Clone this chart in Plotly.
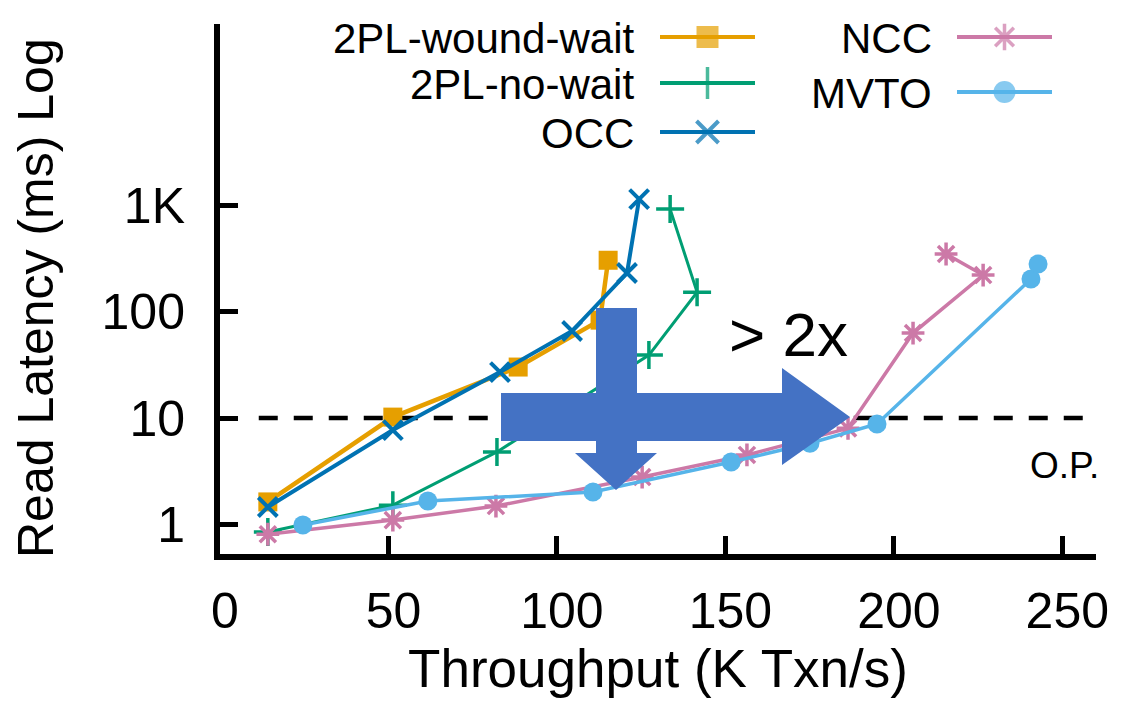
import plotly.graph_objects as go

# ---------------- data ----------------
ww_x = [14.2, 51.3, 88.5, 112.8, 115.2]
ww_y = [1.63, 10.2, 30.1, 83, 303]

nw_x = [14.2, 51.3, 82.2, 127.3, 141.6, 133.6]
nw_y = [0.85, 1.52, 4.8, 39, 152, 916]

occ_x = [14.2, 51.3, 83.1, 104.5, 120.8, 124.4]
occ_y = [1.46, 7.7, 27, 65.6, 230, 1138]

ncc_x = [14.2, 51.3, 81.9, 125.3, 156.4, 186.4, 205.7, 226.5, 215.5]
ncc_y = [0.81, 1.10, 1.49, 2.79, 4.5, 8.0, 62.8, 220, 347]

mvto_x = [24.6, 61.7, 110.7, 151.7, 175.1, 195.0, 240.7, 242.8]
mvto_y = [0.99, 1.66, 2.02, 3.86, 5.8, 8.8, 202, 279]

series_names = ["2PL-wound-wait", "2PL-no-wait", "OCC", "NCC", "MVTO"]

x_tickvals = [0, 50, 100, 150, 200, 250]
y_tickvals = [1, 10, 100, 1000]
y_ticktext = ["1", "10", "100", "1K"]

op_latency = 10          # operating-point latency line
op_x_span = [11.5, 258]  # extent of the dashed O.P. line

# ---------------- styling ----------------
FONT = "Liberation Sans, Arial, Helvetica, sans-serif"
styles = {
    "2PL-wound-wait": dict(color="#E69F00", symbol="square", size=19, lw=4.5, mlw=0),
    "2PL-no-wait": dict(color="#009E73", symbol="cross-thin", size=20, lw=3, mlw=3.5),
    "OCC": dict(color="#0072B2", symbol="x-thin", size=19, lw=4, mlw=4),
    "NCC": dict(color="#CC79A7", symbol="asterisk", size=19, lw=3.5, mlw=3.5),
    "MVTO": dict(color="#56B4E9", symbol="circle", size=19, lw=3.5, mlw=0),
}
xs = [ww_x, nw_x, occ_x, ncc_x, mvto_x]
ys = [ww_y, nw_y, occ_y, ncc_y, mvto_y]

# page offset (default body margin of the html page)
OFF = 8
# plot area in screen pixels
PL, PR, PT, PB = 220, 1096, 24, 554
W, H = 1124, 703
X_RANGE = [0, 260]
Y_RANGE = [-0.277, 4.70]


def paper_x(px):
    return (px - PL) / (PR - PL)


def paper_y(py):
    return (PB - py) / (PB - PT)


fig = go.Figure()

# O.P. dashed line
fig.add_trace(go.Scatter(
    x=op_x_span, y=[op_latency, op_latency], mode="lines",
    line=dict(color="black", width=4.5, dash="19px,16px"),
    showlegend=False, hoverinfo="skip"))

for name, x, y in zip(series_names, xs, ys):
    s = styles[name]
    fig.add_trace(go.Scatter(
        x=x, y=y, mode="lines+markers", name=name,
        line=dict(color=s["color"], width=s["lw"]),
        marker=dict(symbol=s["symbol"], size=s["size"], color=s["color"],
                    line=dict(color=s["color"], width=s["mlw"])),
        showlegend=False, cliponaxis=False))

# ---------------- custom gnuplot-style key (screen-pixel overlay axes) ----------------
key_layout = {
    "2PL-wound-wait": (636, 660, 755, 37),
    "2PL-no-wait": (636, 660, 755, 83),
    "OCC": (636, 660, 755, 132),
    "NCC": (934, 957, 1052, 37),
    "MVTO": (934, 957, 1052, 92),
}
annotations = []
for name in series_names:
    s = styles[name]
    tx, x0, x1, yy = key_layout[name]
    fig.add_trace(go.Scatter(
        x=[x0, (x0 + x1) / 2, x1], y=[yy, yy, yy], xaxis="x2", yaxis="y2",
        mode="lines+markers",
        line=dict(color=s["color"], width=4),
        marker=dict(symbol=s["symbol"], size=[0, s["size"] + 3, 0], color=s["color"],
                    line=dict(color=s["color"], width=s["mlw"])),
        showlegend=False, hoverinfo="skip", cliponaxis=False))
    annotations.append(dict(
        x=tx, y=yy + 1, xref="x2", yref="y2", text=name, showarrow=False,
        xanchor="right", yanchor="middle", font=dict(family=FONT, size=42, color="black")))

# ---------------- big blue arrows (screen-pixel coordinates) ----------------
ARROW_BLUE = "#4472C4"
h_arrow = "M 501,393 L 782,393 L 782,368 L 850,417 L 782,465 L 782,441 L 501,441 Z"
v_arrow = "M 596,308 L 637,308 L 637,453 L 657,453 L 616,490 L 575,453 L 596,453 Z"
shapes = [
    dict(type="path", path=h_arrow, xref="x2", yref="y2", fillcolor=ARROW_BLUE,
         line=dict(width=0), layer="above"),
    dict(type="path", path=v_arrow, xref="x2", yref="y2", fillcolor=ARROW_BLUE,
         line=dict(width=0), layer="above"),
]

annotations.append(dict(x=788, y=334, xref="x2", yref="y2", text="&gt; 2x", showarrow=False,
                        xanchor="center", yanchor="middle",
                        font=dict(family=FONT, size=62, color="black")))
annotations.append(dict(x=1064, y=465, xref="x2", yref="y2", text="O.P.", showarrow=False,
                        xanchor="center", yanchor="middle",
                        font=dict(family=FONT, size=37, color="black")))
# y-axis title
annotations.append(dict(x=paper_x(36), y=paper_y(298), xref="paper", yref="paper",
                        text="Read Latency (ms) Log", textangle=-90, showarrow=False,
                        xanchor="center", yanchor="middle",
                        font=dict(family=FONT, size=50, color="black")))

fig.update_layout(
    width=W, height=H,
    margin=dict(l=PL - OFF, r=W - (PR - OFF), t=PT - OFF, b=H - (PB - OFF), pad=0),
    paper_bgcolor="white", plot_bgcolor="white",
    font=dict(family=FONT, color="black"),
    showlegend=False,
    xaxis=dict(
        range=X_RANGE, tickvals=x_tickvals, showgrid=False, zeroline=False,
        showline=True, linecolor="black", linewidth=6,
        ticks="inside", ticklen=18, tickwidth=5, tickcolor="black",
        tickfont=dict(size=50, family=FONT), ticklabelshift=5, ticklabelstandoff=8,
        title=dict(text="Throughput (K Txn/s)", font=dict(size=53, family=FONT), standoff=0),
    ),
    yaxis=dict(
        type="log", range=Y_RANGE, tickvals=y_tickvals, ticktext=y_ticktext,
        showgrid=False, zeroline=False,
        showline=True, linecolor="black", linewidth=6,
        ticks="inside", ticklen=18, tickwidth=5, tickcolor="black",
        tickfont=dict(size=50, family=FONT), ticklabelstandoff=19,
    ),
    xaxis2=dict(range=[PL, PR], overlaying="x", anchor="y2", visible=False),
    yaxis2=dict(range=[PB, PT], overlaying="y", anchor="x2", visible=False),
    shapes=shapes,
    annotations=annotations,
)

fig.write_html("out.html")
